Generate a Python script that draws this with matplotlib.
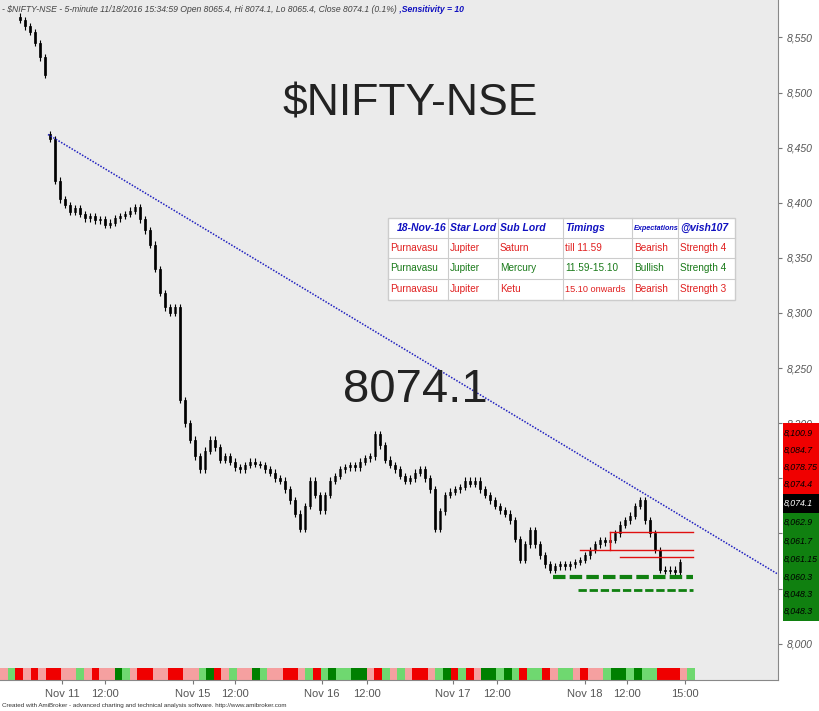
import matplotlib
matplotlib.use("Agg")
import matplotlib.pyplot as plt
from matplotlib.patches import Rectangle

# ---- data (bar position in chart units, close price) ----
bar_x = [20,25,30,35,40,45, 50,55,60,65,70,75,80,85,90,95,100,105,110,115,120,125,130,135,140,145,150,155,160,165,170,175,
         180,185,190,195,200,205,210,215,220,225,230,235,240,245,250,255,260,265,270,275,280,285,290,295,300,305,310,315,320,325,330,335,340,345,350,355,360,365,370,375,380,385,390,395,400,405,410,415,420,425,430,435,440,445,450,455,460,465,470,475,480,485,490,495,500,505,510,515,520,525,530,535,540,545,550,555,560,565,570,575,580,585,590,595,600,605,610,615,620,625,630,635,640,645,650,655,660,665,670,675,680,685,690]
closes = [8566,8560,8555,8545,8532,8516, 8458,8420,8403,8398,8392,8395,8390,8386,8388,8384,8385,8380,8382,8386,8388,8390,8393,8396,8385,8375,8362,8340,8318,8305,8300,8305,
          8221,8200,8185,8170,8158,8175,8185,8178,8167,8170,8165,8160,8158,8162,8165,8163,8162,8158,8155,8150,8148,8140,8130,8118,8104,8125,8148,8135,8121,8135,8148,8152,8158,8160,8162,8160,8165,8168,8170,8190,8180,8167,8162,8158,8152,8148,8150,8155,8158,8150,8140,8104,8120,8135,8138,8140,8142,8148,8145,8148,8140,8135,8130,8125,8121,8118,8112,8095,8076,8090,8103,8090,8080,8072,8067,8070,8072,8070,8072,8074,8076,8080,8085,8090,8094,8092,8094,8100,8108,8112,8116,8125,8130,8112,8100,8085,8067,8066,8067,8065,8074]
gap_after = 45  # Nov 10 session ends

yticks = [8000,8050,8100,8150,8200,8250,8300,8350,8400,8450,8500,8550]
hidden_ticks = [8050, 8100, 8150]  # covered by the price labels
xtick_pos = [62,105,193,235,322,367,453,497,585,627,685]
xtick_lab = ["Nov 11","12:00","Nov 15","12:00","Nov 16","12:00","Nov 17","12:00","Nov 18","12:00","15:00"]

trend_x = [48, 778]; trend_y = [8462, 8063]
red_levels = [(8100.9, 610), (8084.7, 580), (8078.75, 620)]
green_levels = [(8060.3, 553), (8048.3, 578)]
right_labels = ["8,100.9","8,084.7","8,078.75","8,074.4","8,074.1","8,062.9","8,061.7","8,061.15","8,060.3","8,048.3","8,048.3"]
right_kinds = ["r","r","r","r","k","g","g","g","g","g","g"]

strip = "pgrprprrpplprppGlprrpprrpplGrplppGlpprrplrlGllGGprlplprrplGrlrpGGlGlrllrpllprpplGGlGllrrrpl"

table_rows = [["18-Nov-16","Star Lord","Sub Lord","Timings","Expectations","@vish107"],
              ["Purnavasu","Jupiter","Saturn","till 11.59","Bearish","Strength 4"],
              ["Purnavasu","Jupiter","Mercury","11.59-15.10","Bullish","Strength 4"],
              ["Purnavasu","Jupiter","Ketu","15.10 onwards","Bearish","Strength 3"]]
row_colors = ["#1010c0","#e02020","#1a7a1a","#e02020"]

# ---- figure ----
W, H = 820, 711
fig = plt.figure(figsize=(8.2, 7.11), dpi=100)
fig.patch.set_facecolor("white")
ax = fig.add_axes([0, 31/H, 778/W, 1-31/H])
ax.set_facecolor("#ebebeb")
ax.set_xlim(0, 778)
ax.set_ylim(7967, 8584)

F = ["Liberation Sans", "DejaVu Sans"]

prev = closes[0] + 3
for i, (x, c) in enumerate(zip(bar_x, closes)):
    o = prev
    if i > 0 and bar_x[i-1] == gap_after:
        o = c + 4
    hi = max(o, c) + 3; lo = min(o, c) - 3
    ax.vlines(x, lo, hi, color="black", lw=0.8)
    col = "white" if c >= o else "black"
    ax.add_patch(Rectangle((x-1.2, min(o, c)), 2.4, max(abs(c-o), 0.8), facecolor=col, edgecolor="black", lw=0.5))
    prev = c

ax.plot(trend_x, trend_y, color="#2020c0", lw=1.1, ls=(0, (1, 1)))
end = 693
for lv, x0 in red_levels:
    ax.plot([x0, end], [lv, lv], color="#e01010", lw=1)
ax.plot([red_levels[0][1]]*2, [red_levels[1][0], red_levels[0][0]], color="#e01010", lw=1)
for j, (lv, x0) in enumerate(green_levels):
    ax.plot([x0, end], [lv, lv], color="#108010", lw=3 if j == 0 else 2, ls=(0, (3, 1)))

cmap = {"p": "#f5a0a0", "g": "#6fd870", "l": "#6fd870", "r": "#f00000", "G": "#008000"}
sw = 695 / len(strip)
for i, ch in enumerate(strip):
    ax.add_patch(Rectangle((i*sw, 7967), sw, 11, facecolor=cmap[ch], edgecolor="none"))

ax.yaxis.tick_right()
ax.set_yticks(yticks)
ax.set_yticklabels(["" if v in hidden_ticks else f"{v:,}" for v in yticks], fontsize=7.5, color="#555555", style="italic", family=F)
ax.set_xticks(xtick_pos)
ax.set_xticklabels(xtick_lab, fontsize=8, color="#555555", family=F)
ax.tick_params(axis="both", length=3, color="#777777", direction="out")
for s in ["top", "left"]:
    ax.spines[s].set_visible(False)
ax.spines["right"].set_color("#888888")
ax.spines["bottom"].set_color("#888888")

ax.text(410, 8490, "$NIFTY-NSE", fontsize=32, ha="center", va="center", family=F, color="#222222")
ax.text(415, 8230, "8074.1", fontsize=34, ha="center", va="center", family=F, color="#222222")

t1 = fig.text(2/W, 1-10/H, "- $NIFTY-NSE - 5-minute 11/18/2016 15:34:59 Open 8065.4, Hi 8074.1, Lo 8065.4, Close 8074.1 (0.1%)",
              fontsize=6.2, style="italic", color="#444444", va="center", family=F)
fig.canvas.draw()
bb = t1.get_window_extent()
fig.text(bb.x1/W, 1-10/H, " ,Sensitivity = 10", fontsize=6.2, style="italic", color="#1010c0", weight="bold", va="center", family=F)
fig.text(2/W, 4/H, "Created with AmiBroker - advanced charting and technical analysis software. http://www.amibroker.com",
         fontsize=4.5, color="#333333", family=F)

cols = [388, 448, 498, 563, 632, 678, 735]
rows_y = [218, 238, 258, 279, 300]
fig.patches.append(Rectangle((cols[0]/W, 1-rows_y[-1]/H), (cols[-1]-cols[0])/W, (rows_y[-1]-rows_y[0])/H,
                             transform=fig.transFigure, facecolor="white", edgecolor="#cccccc", lw=1))
for c in cols[1:-1]:
    fig.add_artist(plt.Line2D([c/W, c/W], [1-rows_y[0]/H, 1-rows_y[-1]/H], color="#cccccc", lw=0.8))
for r in rows_y[1:-1]:
    fig.add_artist(plt.Line2D([cols[0]/W, cols[-1]/W], [1-r/H, 1-r/H], color="#cccccc", lw=0.8))
for ri, row in enumerate(table_rows):
    yc = 1 - (rows_y[ri] + rows_y[ri+1]) / 2 / H
    for ci, txt in enumerate(row):
        if ri == 0:
            fs = 5.2 if ci == 4 else 7.5
            ha = "right" if ci == 0 else "left"
            xx = cols[1]-2 if ci == 0 else cols[ci] + 2
            fig.text(xx/W, yc, txt, fontsize=fs, color=row_colors[0], weight="bold", style="italic", ha=ha, va="center", family=F)
        else:
            fs = 6.6 if ci == 3 and ri == 3 else 7.2
            fig.text((cols[ci]+2)/W, yc, txt, fontsize=fs, color=row_colors[ri], ha="left", va="center", family=F)

lab_y = [433, 450, 467, 484, 503, 522, 541, 559, 577, 594, 611]
bg = {"r": "#f00000", "k": "black", "g": "#108010"}
for yy, t, k in zip(lab_y, right_labels, right_kinds):
    fig.patches.append(Rectangle((783/W, 1-(yy+9.5)/H), 37/W, 19/H, transform=fig.transFigure, facecolor=bg[k], edgecolor="none"))
    fig.text(784/W, 1-yy/H, t, fontsize=6.3, style="italic", color="white" if k == "k" else "black", va="center", family=F)

fig.savefig("out.png", dpi=100)
